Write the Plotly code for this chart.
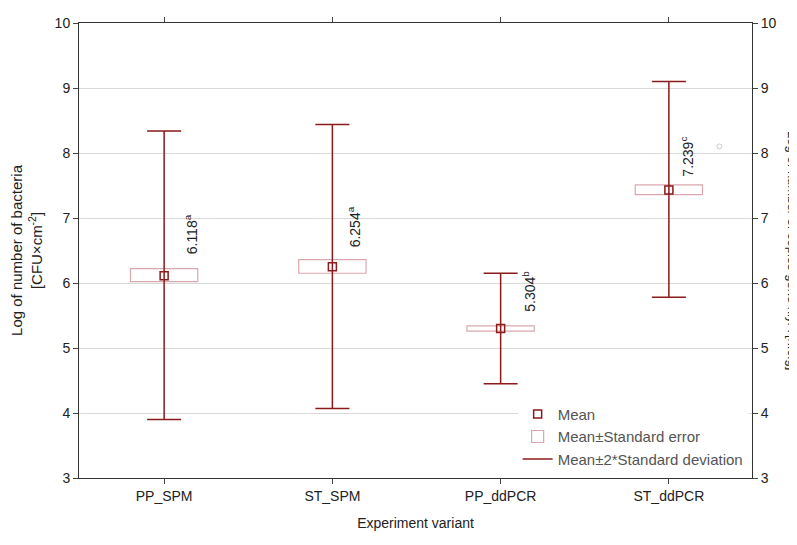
import plotly.graph_objects as go

categories = ["PP_SPM", "ST_SPM", "PP_ddPCR", "ST_ddPCR"]
means = [6.11, 6.25, 5.30, 7.43]
se_low = [6.02, 6.15, 5.26, 7.36]
se_high = [6.22, 6.36, 5.34, 7.51]
sd_low = [3.90, 4.07, 4.45, 5.78]
sd_high = [8.34, 8.44, 6.15, 9.10]
labels = ["6.118<sup>a</sup>", "6.254<sup>a</sup>", "5.304<sup>b</sup>", "7.239<sup>c</sup>"]
label_y = [6.75, 6.86, 5.87, 7.95]
label_dx = [0.16, 0.13, 0.17, 0.11]
extra_x = [3.3]
extra_y = [8.1]

red = "#8B1A1A"
xs = list(range(len(categories)))
fig = go.Figure()
fig.add_trace(go.Bar(x=xs, base=se_low, y=[h - l for h, l in zip(se_high, se_low)], width=0.4,
                     marker=dict(color="white", line=dict(color="#D9A8AE", width=1.2)),
                     name="Mean±Standard error", showlegend=True, legendrank=2))
fig.add_trace(go.Scatter(x=xs, y=means, mode="markers",
                         marker=dict(symbol="square-open", size=8, color=red, line=dict(width=1.5)),
                         error_y=dict(type="data", symmetric=False,
                                      array=[h - m for h, m in zip(sd_high, means)],
                                      arrayminus=[m - l for m, l in zip(means, sd_low)],
                                      color=red, thickness=1.5, width=17),
                         name="Mean", legendrank=1))
fig.add_trace(go.Scatter(x=extra_x, y=extra_y, mode="markers", showlegend=False,
                         marker=dict(symbol="circle-open", size=5, color="#cccccc")))
fig.add_trace(go.Scatter(x=[None], y=[None], mode="lines", line=dict(color=red, width=1.5),
                         name="Mean±2*Standard deviation", legendrank=3))
for x, t, y, dx in zip(xs, labels, label_y, label_dx):
    fig.add_annotation(x=x + dx, y=y, text=t, textangle=-90, showarrow=False,
                       font=dict(size=14, color="#222"))
fig.add_annotation(xref="paper", yref="paper", x=1.06, xanchor="center", y=0.5,
                   text="Log of number of copies gene hlyA [n.c.g]",
                   textangle=90, showarrow=False, font=dict(size=13, color="#222"))
fig.update_layout(
    width=797, height=545, margin=dict(l=71, r=53, t=7, b=75),
    plot_bgcolor="white", paper_bgcolor="white",
    font=dict(family="Liberation Sans, Arial", size=14, color="#222"),
    barmode="overlay",
    xaxis=dict(range=[-0.506, 3.494], tickvals=xs, ticktext=categories, showline=True, linecolor="#333",
               mirror="ticks", ticks="outside", ticklen=5, showgrid=False,
               title=dict(text="Experiment variant", font=dict(size=14))),
    yaxis=dict(range=[3, 10], dtick=1, showline=True, linecolor="#333", mirror=True, ticks="outside",
               ticklen=5, gridcolor="#d9d9d9", zeroline=False,
               title=dict(text="Log of number of bacteria<br>[CFU×cm<sup>-2</sup>]", font=dict(size=15), standoff=8)),
    yaxis2=dict(range=[3, 10], dtick=1, overlaying="y", side="right", ticks="outside", ticklen=5,
                showgrid=False, showline=False, zeroline=False),
    legend=dict(x=0.995, y=0.005, xanchor="right", yanchor="bottom", bgcolor="white",
                font=dict(size=15, color="#555"), tracegroupgap=0),
)
fig.add_trace(go.Scatter(x=[None], y=[None], yaxis="y2", showlegend=False))
fig.write_html("out.html")
